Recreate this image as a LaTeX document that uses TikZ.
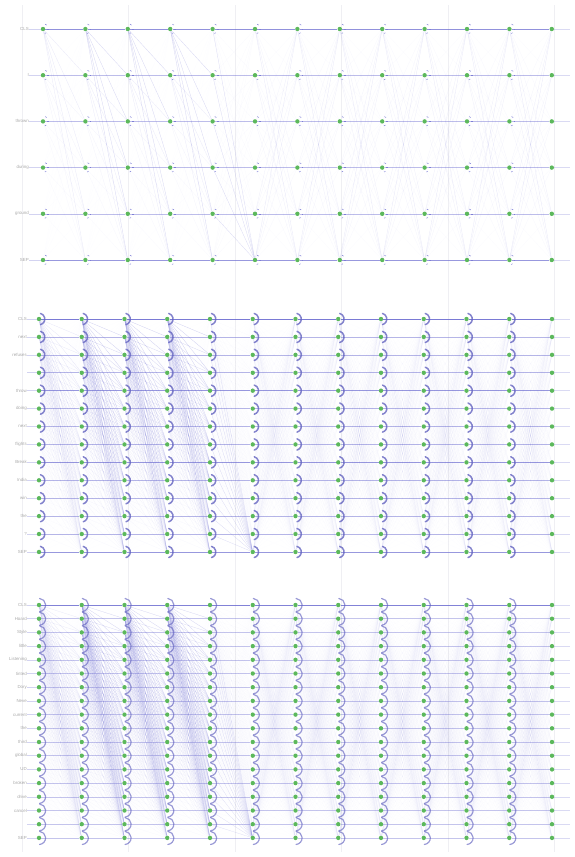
\documentclass[tikz,border=0pt]{standalone}
\usepackage{fontspec}
\setmainfont{Liberation Sans}
\definecolor{dotgreen}{HTML}{5CB85C}
\definecolor{lav}{HTML}{7E7ED6}
\definecolor{hlav}{HTML}{6C6CD0}
\definecolor{arcblue}{HTML}{6464C0}
\definecolor{lbl}{HTML}{A8A8A8}
\definecolor{gridc}{HTML}{EFEFF3}
\pgfdeclarelayer{bg}
\pgfdeclarelayer{mid}
\pgfsetlayers{bg,mid,main}
\tikzset{
  dot/.style={circle, fill=dotgreen, inner sep=0pt, minimum size=4.4pt, draw=none},
  hline/.style={draw=hlav, line width=0.6pt},
  link/.style={draw=lav, line width=0.3pt},
  arcmark/.style={draw=arcblue, line width=1.5pt, line cap=round, draw opacity=0.8},
  tickmark/.style={draw=lav, line width=0.5pt},
  lab/.style={anchor=east, text=lbl, font=\fontsize{4.4}{5}\selectfont, inner sep=0pt},
  gridline/.style={draw=gridc, line width=0.6pt}
}
\begin{document}
\begin{tikzpicture}[x=1pt,y=-1pt]
\useasboundingbox (0,0) rectangle (574,857);
% ---------- panel 1 ----------
\foreach \r [count=\i from 0] in {CLS,I,thrown,during,ground,SEP} {
  \pgfmathsetmacro\yy{29+46.2*\i}
  \node[lab] (LA-\i) at (29,\yy) {\r};
  \foreach \c in {1,...,13} {
    \pgfmathsetmacro\xx{43+42.4*(\c-1)}
    \node[dot] (A-\c-\i) at (\xx,\yy) {};
  }
  \coordinate (EA-\i) at (570,\yy);
}
% ---------- panel 2 ----------
\foreach \r [count=\i from 0] in {CLS,next,refuses,{},throw,doing,next,flights,Break,India,win,the,?,SEP} {
  \pgfmathsetmacro\yy{319+17.92*\i}
  \node[lab] (LB-\i) at (27,\yy) {\r};
  \foreach \c in {1,...,13} {
    \pgfmathsetmacro\xx{39+42.75*(\c-1)}
    \node[dot] (B-\c-\i) at (\xx,\yy) {};
  }
  \coordinate (EB-\i) at (570,\yy);
}
% ---------- panel 3 ----------
\foreach \r [count=\i from 0] in {CLS,Hoard,Style,little,Listening,tinted,Dory,Neve,current,the,third,global,UD,broken,drive,cancel,{},SEP} {
  \pgfmathsetmacro\yy{605+13.7*\i}
  \node[lab] (LC-\i) at (27,\yy) {\r};
  \foreach \c in {1,...,13} {
    \pgfmathsetmacro\xx{39+42.75*(\c-1)}
    \node[dot] (C-\c-\i) at (\xx,\yy) {};
  }
  \coordinate (EC-\i) at (570,\yy);
}
\begin{pgfonlayer}{bg}
  % faint vertical grid
  \foreach \gx [count=\g] in {22,128.5,235,341.5,448,554.5} {
    \coordinate (G1-\g) at (\gx,5);
    \coordinate (G2-\g) at (\gx,852);
    \draw[gridline] (G1-\g) -- (G2-\g);
  }
  % panel 1 links
  \foreach \c [evaluate=\c as \cn using int(\c+1)] in {1,...,12} {
    \foreach \i in {0,...,5} {
      \foreach \j in {0,...,5} {
        \ifnum\i=\j\relax\else
        \pgfmathsetmacro\op{ifthenelse(\c<5, ifthenelse(\j>=\i, ifthenelse(\c==1,0.5,1)*0.3*exp(-0.8*\i)+0.03, 0.02), ifthenelse(\c==5, ifthenelse(\j==5,0.3,0.04), 0.03+0.16*((abs(\i-\j)/5)^2)))}
        \draw[link, draw opacity=\op] (A-\c-\i) -- (A-\cn-\j);
        \fi
      }
    }
  }
  % panel 2 links
  \foreach \c [evaluate=\c as \cn using int(\c+1)] in {1,...,12} {
    \foreach \i in {0,...,13} {
      \foreach \j in {0,...,13} {
        \ifnum\i=\j\relax\else
        \pgfmathsetmacro\op{ifthenelse(\c<5, ifthenelse(\j>=\i, ifthenelse(\c==1,0.5,1)*0.36*exp(-2.5*\i/13)+0.018, 0.01), ifthenelse(\c==5, ifthenelse(\j==13,0.28,ifthenelse(\j>=\i,0.035,0.012)), 0.016+0.11*((abs(\i-\j)/13)^2)))}
        \draw[link, draw opacity=\op] (B-\c-\i) -- (B-\cn-\j);
        \fi
      }
    }
  }
  % panel 3 links
  \foreach \c [evaluate=\c as \cn using int(\c+1)] in {1,...,12} {
    \foreach \i in {0,...,17} {
      \foreach \j in {0,...,17} {
        \ifnum\i=\j\relax\else
        \pgfmathsetmacro\op{ifthenelse(\c<5, ifthenelse(\j>=\i, ifthenelse(\c==1,0.5,1)*0.32*exp(-2.5*\i/17)+0.014, 0.008), ifthenelse(\c==5, ifthenelse(\j==17,0.25,ifthenelse(\j>=\i,0.03,0.01)), 0.014+0.09*((abs(\i-\j)/17)^2)))}
        \draw[link, draw opacity=\op] (C-\c-\i) -- (C-\cn-\j);
        \fi
      }
    }
  }
\end{pgfonlayer}
\begin{pgfonlayer}{mid}
  % horizontal row lines
  \foreach \i in {0,...,5} {
    \pgfmathsetmacro\ho{ifthenelse(\i==0,0.75,ifthenelse(\i==5,0.7,0.45))}
    \draw[hline, draw opacity=0.3] (LA-\i) -- (A-1-\i);
    \foreach \c [evaluate=\c as \cn using int(\c+1)] in {1,...,12} {
      \draw[hline, draw opacity=\ho] (A-\c-\i) -- (A-\cn-\i);
    }
    \draw[hline, draw opacity=0.25] (A-13-\i) -- (EA-\i);
  }
  \foreach \i in {0,...,13} {
    \pgfmathsetmacro\ho{ifthenelse(\i==0,0.9,ifthenelse(\i==4||\i==8||\i==13,0.7,0.5))}
    \draw[hline, draw opacity=0.3] (LB-\i) -- (B-1-\i);
    \foreach \c [evaluate=\c as \cn using int(\c+1)] in {1,...,12} {
      \draw[hline, draw opacity=\ho] (B-\c-\i) -- (B-\cn-\i);
    }
    \draw[hline, draw opacity=0.25] (B-13-\i) -- (EB-\i);
  }
  \foreach \i in {0,...,17} {
    \pgfmathsetmacro\ho{ifthenelse(\i==0,0.85,0.4)}
    \draw[hline, line width=0.5pt, draw opacity=0.3] (LC-\i) -- (C-1-\i);
    \foreach \c [evaluate=\c as \cn using int(\c+1)] in {1,...,12} {
      \draw[hline, line width=0.5pt, draw opacity=\ho] (C-\c-\i) -- (C-\cn-\i);
    }
    \draw[hline, line width=0.5pt, draw opacity=0.25] (C-13-\i) -- (EC-\i);
  }
\end{pgfonlayer}
% panel 1 tick marks
\foreach \c in {1,...,12} {
  \foreach \i in {0,...,5} {
    \draw[tickmark] ([shift={(2.2,-4.8)}]A-\c-\i.center) -- ++(1.6,0.9);
    \draw[tickmark] ([shift={(4.2,0)}]A-\c-\i.center) -- ++(1.8,0);
    \draw[tickmark] ([shift={(1.8,4.4)}]A-\c-\i.center) -- ++(1.4,-0.6);
  }
}
% panel 2 arcs
\foreach \c in {1,...,12} {
  \foreach \i in {0,...,13} {
    \draw[arcmark] ([shift={(75:5.8)}]B-\c-\i.center) arc (75:-75:5.8);
  }
}
% panel 3 arcs
\foreach \c in {1,...,12} {
  \foreach \i in {0,...,17} {
    \draw[arcmark, line width=1.2pt, draw opacity=0.65] ([shift={(85:6.6)}]C-\c-\i.center) arc (85:-85:6.6);
  }
}
\end{tikzpicture}
\end{document}
